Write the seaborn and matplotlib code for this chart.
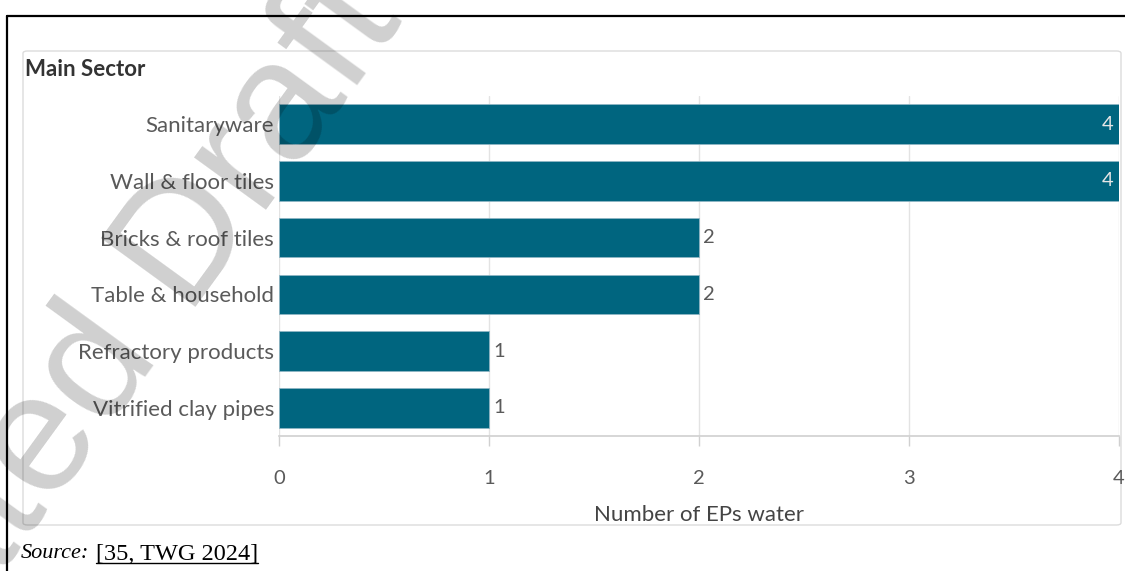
import matplotlib.pyplot as plt
import seaborn as sns
from matplotlib.patches import FancyBboxPatch
from matplotlib.lines import Line2D

# data
sectors = ["Sanitaryware", "Wall & floor tiles", "Bricks & roof tiles",
           "Table & household", "Refractory products", "Vitrified clay pipes"]
eps_water = [4, 4, 2, 2, 1, 1]
x_ticks = [0, 1, 2, 3, 4]

BAR = "#00657F"
GREY = "#5a5a5a"

sns.set_theme(style="whitegrid")
plt.rcParams["font.family"] = ["Lato", "DejaVu Sans"]

W, H = 1125, 571
fig = plt.figure(figsize=(W / 100, H / 100), dpi=100)
fig.patch.set_facecolor("white")

# black document frame (top and left edges)
fig.add_artist(Line2D([7 / W, 7 / W], [0, 1 - 16 / H], color="black", lw=1.6,
                      transform=fig.transFigure))
fig.add_artist(Line2D([7 / W, 1], [1 - 16 / H, 1 - 16 / H], color="black", lw=1.6,
                      transform=fig.transFigure))

# light rounded panel behind the chart
panel = FancyBboxPatch((23 / W, 1 - 525 / H), (1121 - 23) / W, (525 - 51) / H,
                       boxstyle="round,pad=0,rounding_size=0.004",
                       transform=fig.transFigure, facecolor="white",
                       edgecolor="#dcdcdc", lw=1.0, zorder=-1)
fig.add_artist(panel)

ax = fig.add_axes([279 / W, 1 - 436.4 / H, (1119 - 279) / W, (436.4 - 95.6) / H])
ax.set_facecolor("none")

sns.barplot(x=eps_water, y=sectors, color=BAR, width=0.7, ax=ax,
            edgecolor="#8fb6c4", linewidth=0.6, saturation=1)

ax.set_xlim(0, 4)
ax.set_xticks(x_ticks)
ax.set_xticklabels([str(t) for t in x_ticks])
ax.grid(axis="x", color="#e3e3e3", lw=1)
ax.grid(axis="y", visible=False)
ax.set_axisbelow(True)

for side in ["top", "right", "left"]:
    ax.spines[side].set_visible(False)
ax.spines["bottom"].set_color("#d0d0d0")
ax.spines["bottom"].set_linewidth(1.2)

ax.tick_params(axis="x", bottom=True, length=7, width=1, color="#d0d0d0",
               pad=17, labelsize=14.5, labelcolor=GREY)
ax.tick_params(axis="y", left=False, length=0, pad=3.5, labelsize=16, labelcolor=GREY)
ax.set_ylabel("")
ax.set_xlabel("Number of EPs water", fontsize=16, color="#444444", labelpad=13)

# value labels: inside for full-width bars, outside otherwise
for i, v in enumerate(eps_water):
    if v >= max(x_ticks):
        ax.annotate(str(v), (v, i), xytext=(-4, 0), textcoords="offset points",
                    ha="right", va="center", fontsize=14.5, color="#e6e6e6")
    else:
        ax.annotate(str(v), (v, i), xytext=(3, 0), textcoords="offset points",
                    ha="left", va="center", fontsize=14.5, color=GREY)

fig.text(25 / W, 1 - 69 / H, "Main Sector", fontsize=16, fontweight="bold",
         color="#333333", ha="left", va="center")

# source line
src = fig.text(21 / W, 1 - 554 / H, "Source:", family="Liberation Serif",
               style="italic", fontsize=16, color="black", ha="left", va="center")
fig.canvas.draw()
sb = src.get_window_extent()
ref = fig.text((sb.x1 + 7) / W, 1 - 554 / H, "[35, TWG 2024]", family="Liberation Serif",
               fontsize=17.5, color="black", ha="left", va="center")
fig.canvas.draw()
bb = ref.get_window_extent()
fig.add_artist(Line2D([bb.x0 / W, bb.x1 / W], [(bb.y0 + 2) / H, (bb.y0 + 2) / H],
                      color="black", lw=1.0, transform=fig.transFigure))

# draft watermark
fig.text(150 / W, 1 - 296 / H, "ated Draft", family="Liberation Sans",
         fontsize=122, color="black", alpha=0.19, rotation=54,
         rotation_mode="anchor", ha="center", va="center", zorder=10)

fig.savefig("out.png", dpi=100, facecolor="white")
